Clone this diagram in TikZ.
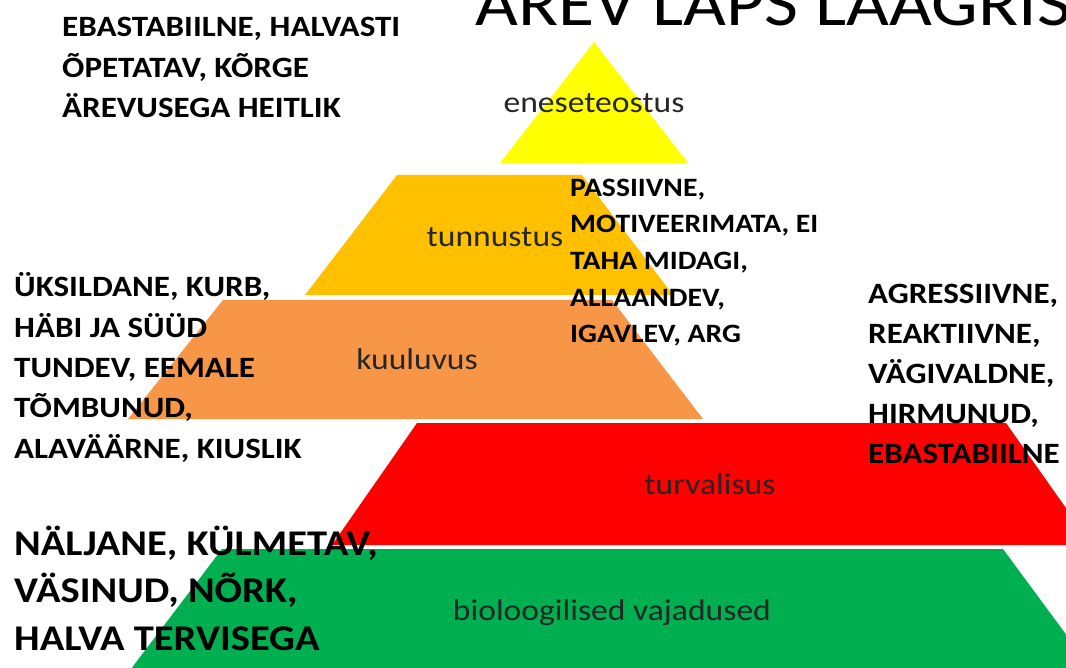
\documentclass[tikz,border=0pt]{standalone}
\usepackage{fontspec}
\setmainfont{Carlito}[FakeStretch=1.12]

\definecolor{selfyellow}{HTML}{FFFF00}
\definecolor{esteemamber}{HTML}{FFC000}
\definecolor{belongorange}{HTML}{F79646}
\definecolor{safetyred}{HTML}{FF0000}
\definecolor{biogreen}{HTML}{00B050}
\definecolor{labelgray}{HTML}{262626}

\begin{document}
\begin{tikzpicture}[x=1pt,y=-1pt,
  level/.style={inner sep=0pt, anchor=base, text=labelgray, font=\fontsize{30}{36}\selectfont},
  note/.style={inner sep=0pt, anchor=base west, align=left, font=\bfseries\fontsize{29.5}{40.5}\selectfont}]
\useasboundingbox (0,0) rectangle (1066,668);
\clip (0,0) rectangle (1066,668);
% pyramid layers
\fill [selfyellow] (594,42) -- (688,163) -- (500,163) -- cycle;
\fill [esteemamber] (397,175) -- (582,175) -- (673,295) -- (305,295) -- cycle;
\fill [belongorange] (223,300) -- (612,300) -- (703,419) -- (128,419) -- cycle;
\fill [safetyred] (417,423) -- (1006,423) -- (1092,545) -- (332,545) -- cycle;
\fill [biogreen] (222,549) -- (1003,549) -- (1107,690) -- (115,690) -- cycle;
% layer names
\node [level] (self) at (594,113) {eneseteostus};
\node [level] (esteem) at (495,247) {tunnustus};
\node [level] (belong) at (417,370) {kuuluvus};
\node [level] (safety) at (710,494) {turvalisus};
\node [level] (bio) at (612,620) {bioloogilised vajadused};
% title
\node [inner sep=0pt, anchor=base west, font=\fontsize{66}{72}\selectfont] (title) at (475,26) {ÄREV LAPS LAAGRIS};
% notes (anchored at the last line)
\node [note] (noteself) at (62,118) {EBASTABIILNE, HALVASTI\\ÕPETATAV, KÕRGE\\ÄREVUSEGA HEITLIK};
\node [note, font=\bfseries\fontsize{26.5}{36.7}\selectfont] (noteesteem) at (570,343) {PASSIIVNE,\\MOTIVEERIMATA, EI\\TAHA MIDAGI,\\ALLAANDEV,\\IGAVLEV, ARG};
\node [note, font=\bfseries\fontsize{29.5}{40.3}\selectfont] (notebelong) at (14,458) {ÜKSILDANE, KURB,\\HÄBI JA SÜÜD\\TUNDEV, EEMALE\\TÕMBUNUD,\\ALAVÄÄRNE, KIUSLIK};
\node [note, font=\bfseries\fontsize{29.5}{40}\selectfont] (notesafety) at (868,463) {AGRESSIIVNE,\\REAKTIIVNE,\\VÄGIVALDNE,\\HIRMUNUD,\\EBASTABIILNE};
\node [note, font=\bfseries\fontsize{36.2}{47.5}\selectfont] (notebio) at (14,650) {NÄLJANE, KÜLMETAV,\\VÄSINUD, NÕRK,\\HALVA TERVISEGA};
\end{tikzpicture}
\end{document}
